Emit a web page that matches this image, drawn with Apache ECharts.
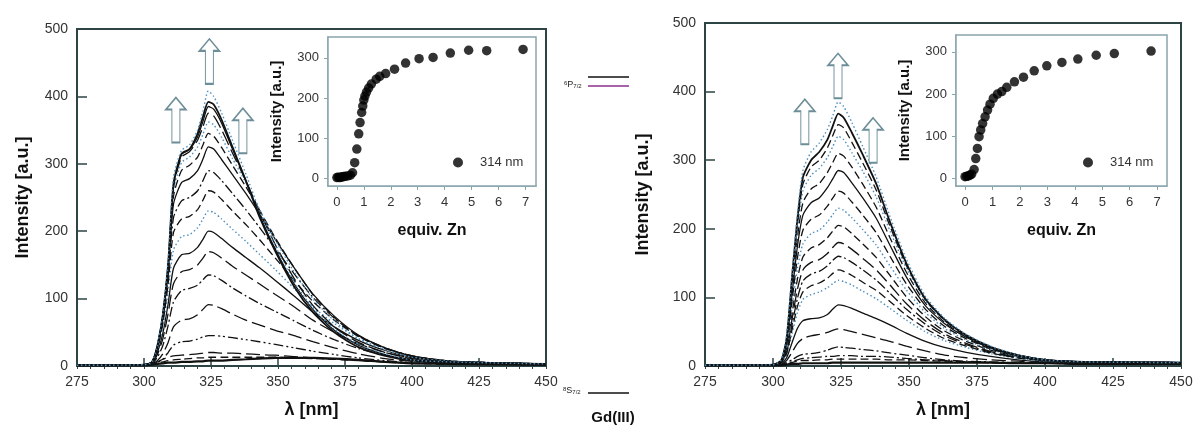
<!DOCTYPE html>
<html><head><meta charset="utf-8">
<script src="https://cdn.jsdelivr.net/npm/echarts@6/dist/echarts.min.js"></script>
<style>html,body{margin:0;padding:0;background:#fff}#c{width:1197px;height:427px}</style>
</head><body><div id="c"></div>
<script>
// ---------------- DATA ----------------
const wl = [275,300,303,305,307,309,311,314,317,320,322,324,326,329,333,338,343,349,356,363,371,380,390,400,415,450];
const xTicks = [275,300,325,350,375,400,425,450];
const yTicks = [0,100,200,300,400,500];
const insetXTicks = [0,1,2,3,4,5,6,7];
const insetYTicks = [0,100,200,300];

// left panel spectra (intensity vs wl)
const L01 = [1,1,2,3,4,5,5,6,6,7,7,8,8,8,9,10,11,12,12,12,11,9,6,4,3,2];
const L02 = [1,1,2,4,6,8,9,10,11,12,12,13,13,13,13,13,13,13,12,11,10,8,6,4,3,2];
const L03 = [1,1,3,6,10,13,15,16,17,18,19,20,20,19,19,18,17,16,14,12,10,8,6,4,3,2];
const L04 = [1,1,2,5,10,20,31,36,37,40,43,45,45,44,42,39,36,32,27,22,17,12,8,5,3,2];
const L05 = [1,2,3,8,18,35,58,68,70,76,84,91,90,85,77,68,61,53,45,36,27,18,11,7,4,2];
const L06 = [1,2,4,13,30,60,95,112,115,120,128,135,134,127,116,104,93,81,67,53,39,26,16,10,5,3];
const L07 = [1,2,4,17,40,78,122,140,143,150,160,170,168,160,148,135,122,106,88,68,50,33,20,12,6,3];
const L08 = [1,2,5,20,48,92,145,165,167,176,188,200,198,189,176,161,146,127,104,80,58,38,23,13,7,3];
const L09 = [1,2,5,24,56,110,172,192,195,205,218,230,228,218,203,185,166,143,115,88,63,41,25,14,7,3];
const L10 = [1,2,5,25,62,122,198,218,222,232,246,260,258,247,230,210,188,160,127,96,68,44,26,15,7,3];
const L11 = [1,2,6,27,66,132,220,245,250,260,275,290,287,275,256,232,206,174,137,102,71,45,27,15,7,3];
const L12 = [1,2,6,28,70,140,240,272,278,290,307,325,322,306,284,256,226,188,146,107,74,46,27,15,7,3];
const L13 = [1,2,6,29,72,144,252,290,298,310,328,345,341,324,298,266,232,190,146,106,72,44,26,14,7,3];
const L14 = [1,2,6,29,73,146,260,302,310,325,344,362,358,339,308,272,233,187,140,100,67,40,24,13,7,3];
const L15 = [1,2,6,30,74,148,265,310,318,335,355,375,371,350,316,275,230,180,130,90,58,35,20,11,6,3];
const L16 = [1,2,6,30,75,150,268,314,321,340,363,385,381,360,322,275,225,173,122,84,53,31,17,9,6,3];
const L17 = [1,2,6,30,75,150,270,315,322,345,370,392,388,365,325,275,222,170,118,80,50,28,15,8,5,3];
const L18 = [1,2,6,32,78,158,280,320,328,350,378,408,400,375,335,285,232,178,125,86,55,32,18,9,6,3];

// right panel spectra
const R01 = [1,1,1,2,3,3,4,4,4,4,5,5,5,5,5,5,5,5,5,5,5,5,4,4,3,3];
const R02 = [1,1,2,3,5,7,8,8,9,9,10,10,10,10,10,10,9,9,8,7,6,5,4,4,3,3];
const R03 = [1,1,2,4,6,9,11,12,13,14,14,15,15,15,14,14,13,11,9,8,6,5,4,4,3,3];
const R04 = [1,2,3,5,9,14,17,18,20,23,26,28,27,26,24,22,19,16,12,9,7,6,5,4,4,3];
const R05 = [1,2,3,8,20,33,40,44,46,49,52,54,53,50,46,41,36,29,22,16,12,9,7,5,4,4];
const R06 = [1,2,4,12,34,55,66,69,70,75,83,89,88,84,77,69,60,48,36,27,20,14,9,6,5,4];
const R07 = [1,2,5,16,47,78,97,104,108,114,120,125,123,118,109,98,84,67,50,37,27,18,11,7,6,5];
const R08 = [1,2,5,18,53,87,108,117,121,128,135,140,138,132,122,110,94,74,55,40,29,19,12,8,6,5];
const R09 = [1,2,6,20,60,99,124,134,138,146,154,160,158,151,140,125,106,83,61,44,31,20,12,8,6,5];
const R10 = [1,2,6,22,68,112,140,151,155,164,173,180,178,170,157,140,118,91,66,47,33,21,13,8,6,5];
const R11 = [1,2,6,25,77,127,159,172,177,187,197,205,203,193,178,158,132,101,72,51,36,23,14,8,6,5];
const R12 = [1,2,7,28,86,142,178,193,198,210,221,230,227,216,199,176,146,111,78,55,38,24,14,8,6,5];
const R13 = [1,2,7,31,95,158,198,214,220,233,245,255,252,239,220,194,160,120,83,58,40,25,15,9,6,5];
const R14 = [1,2,7,34,105,175,220,238,245,260,273,285,282,267,245,215,176,130,88,62,42,26,15,9,6,5];
const R15 = [1,2,8,36,112,188,238,258,266,282,297,310,306,290,265,231,187,137,92,64,43,27,16,9,6,5];
const R16 = [1,2,8,38,120,200,255,278,288,304,320,335,330,311,284,246,197,143,95,66,44,27,16,9,6,5];
const R17 = [1,2,8,40,125,208,265,290,300,318,336,352,347,326,296,256,204,147,97,67,44,27,16,9,6,5];
const R18 = [1,2,8,40,130,215,275,300,312,330,350,368,362,340,308,265,210,150,98,68,45,28,16,9,6,5];
const R19 = [1,2,9,45,135,222,285,312,325,345,365,385,378,355,320,275,218,156,102,70,46,29,16,9,6,5];

// insets: intensity at 314 nm vs equiv. Zn
const insetL_x = [0,0.05,0.1,0.15,0.2,0.25,0.3,0.4,0.5,0.58,0.66,0.74,0.81,0.86,0.92,0.96,1.0,1.04,1.1,1.18,1.28,1.46,1.59,1.81,2.14,2.55,3.05,3.57,4.21,4.89,5.56,6.91];
const insetL_y = [2,3,2,3,4,4,5,6,8,14,39,73,111,139,164,180,195,205,215,225,235,247,254,261,272,287,298,301,312,319,318,321];
const insetR_x = [0,0.06,0.12,0.18,0.24,0.33,0.39,0.45,0.51,0.57,0.64,0.73,0.82,0.91,1.03,1.18,1.34,1.52,1.8,2.13,2.52,2.98,3.53,4.11,4.78,5.44,6.78];
const insetR_y = [4,5,6,8,10,21,47,71,99,115,130,146,162,176,190,200,206,216,229,240,255,267,275,283,292,296,302];

// arrow annotations [wavelength, intensity]
const arrowsL = [[311.9,365],[324.4,452],[336.9,349]];
const arrowsR = [[311.7,356],[323.9,423],[336.8,329]];

// ---------------- STYLES ----------------
const FONT = '"Liberation Sans", Arial, sans-serif';
const FRAME = '#2e4444';
const INSET = '#88a5ac';
const TXT = '#333';
const BLUE = '#4f8fbd';
const st = {
  S:  {color:'#111', width:1.3, type:'solid'},
  S2: {color:'#111', width:2.2, type:'solid'},
  S3: {color:'#111', width:1.8, type:'solid'},
  D:  {color:'#111', width:1.3, type:[8,4]},
  LD: {color:'#111', width:1.3, type:[14,5]},
  DD: {color:'#111', width:1.3, type:[10,3,2,3]},
  DDD:{color:'#111', width:1.3, type:[10,3,2,3,2,3]},
  B:  {color:BLUE, width:1.4, type:[1.5,2.5]}
};
const leftCurves = [L01,L02,L03,L04,L05,L06,L07,L08,L09,L10,L11,L12,L13,L14,L15,L16,L17,L18];
const leftStyles = ['S2','D','LD','DDD','LD','DD','LD','S','B','D','DD','S','D','B','LD','S','S3','B'];
const rightCurves = [R01,R02,R03,R04,R05,R06,R07,R08,R09,R10,R11,R12,R13,R14,R15,R16,R17,R18,R19];
const rightStyles = ['S2','D','DD','DD','LD','S','B','D','DD','LD','D','B','D','S','D','B','D','S3','B'];

const ARROW = 'path://M10,0 L20,12 L14,12 L14,45 L6,45 L6,12 L0,12 Z';

function lines(curves, styles, ax, arrows) {
  return curves.map((c, k) => {
    const s = {
      type:'line', xAxisIndex:ax, yAxisIndex:ax, name:'c'+ax+'_'+k,
      data: wl.map((w,i)=>[w,c[i]]), showSymbol:false, smooth:0.22,
      lineStyle: st[styles[k]], silent:true, z:2
    };
    if (k === curves.length - 1) {
      s.markPoint = {
        symbol: ARROW, symbolSize:[20,45], silent:true,
        itemStyle:{color:'#fff', borderColor:'#6d8e98', borderWidth:1.4},
        label:{show:false},
        data: arrows.map(a=>({coord:a}))
      };
    }
    return s;
  });
}

function mainX(g){
  return {gridIndex:g, type:'value', min:275, max:450, interval:25, position:'bottom',
    axisLine:{show:true, onZero:false, lineStyle:{color:FRAME, width:2}},
    axisTick:{show:true, inside:true, length:8, lineStyle:{color:FRAME, width:1.5}},
    axisLabel:{fontSize:14, color:TXT, margin:9, fontFamily:FONT},
    splitLine:{show:false},
    name:'λ [nm]', nameLocation:'middle', nameGap:35,
    nameTextStyle:{fontSize:18, fontWeight:'bold', color:'#111', fontFamily:FONT}};
}
function minorX(g){
  return {gridIndex:g, type:'value', min:275, max:450, interval:5, position:'bottom',
    axisLine:{show:false}, axisTick:{show:true, inside:false, length:3, lineStyle:{color:FRAME}},
    axisLabel:{show:false}, splitLine:{show:false}};
}
function mainY(g, gap){
  return {gridIndex:g, type:'value', min:0, max:500, interval:100,
    axisLine:{show:true, lineStyle:{color:FRAME, width:2}},
    axisTick:{show:true, inside:true, length:10, lineStyle:{color:FRAME, width:1.5}},
    axisLabel:{fontSize:14, color:TXT, margin:9, fontFamily:FONT},
    splitLine:{show:false},
    name:'Intensity [a.u.]', nameLocation:'middle', nameGap:gap, nameRotate:90,
    nameTextStyle:{fontSize:18, fontWeight:'bold', color:'#111', fontFamily:FONT}};
}
function insetX(g, min, max){
  return {gridIndex:g, type:'value', min:min, max:max,
    axisLine:{show:true, onZero:false, lineStyle:{color:INSET, width:1.5}},
    axisTick:{show:true, length:4, customValues:insetXTicks, lineStyle:{color:INSET}},
    axisLabel:{fontSize:13, color:TXT, margin:10, customValues:insetXTicks, fontFamily:FONT},
    splitLine:{show:false},
    name:'equiv. Zn', nameLocation:'middle', nameGap:37,
    nameTextStyle:{fontSize:16, fontWeight:'bold', color:'#111', fontFamily:FONT}};
}
function insetY(g, min, max){
  return {gridIndex:g, type:'value', min:min, max:max,
    axisLine:{show:true, onZero:false, lineStyle:{color:INSET, width:1.5}},
    axisTick:{show:true, length:4, customValues:insetYTicks, lineStyle:{color:INSET}},
    axisLabel:{fontSize:13, color:TXT, margin:9, customValues:insetYTicks, fontFamily:FONT},
    splitLine:{show:false},
    name:'Intensity [a.u.]', nameLocation:'middle', nameGap:44, nameRotate:90,
    nameTextStyle:{fontSize:15, fontWeight:'bold', color:'#111', fontFamily:FONT}};
}

const series = [].concat(
  lines(leftCurves, leftStyles, 0, arrowsL),
  lines(rightCurves, rightStyles, 2, arrowsR),
  [
    {type:'scatter', name:'314 nm', xAxisIndex:1, yAxisIndex:1, symbolSize:9.5,
     itemStyle:{color:'#000'}, data: insetL_x.map((x,i)=>[x,insetL_y[i]]), z:5},
    {type:'scatter', name:'314 nm', xAxisIndex:3, yAxisIndex:3, symbolSize:9.5,
     itemStyle:{color:'#000'}, data: insetR_x.map((x,i)=>[x,insetR_y[i]]), z:5}
  ]
);

// axis indices: 0 main L, 1 inset L, 2 main R, 3 inset R, 4/5 minor tick overlays
const option = {
  animation:false,
  backgroundColor:'#fff',
  textStyle:{fontFamily:FONT},
  grid:[
    {left:77, top:29, width:469, height:337, show:true, borderColor:FRAME, borderWidth:2, backgroundColor:'transparent'},
    {left:328, top:37, width:208, height:149, show:true, borderColor:INSET, borderWidth:1.5, backgroundColor:'#fff', z:1},
    {left:705, top:23, width:476, height:343, show:true, borderColor:FRAME, borderWidth:2, backgroundColor:'transparent'},
    {left:956, top:35, width:211, height:151, show:true, borderColor:INSET, borderWidth:1.5, backgroundColor:'#fff', z:1}
  ],
  xAxis:[ mainX(0), insetX(1,-0.33,7.39), mainX(2), insetX(3,-0.33,7.36), minorX(0), minorX(2) ],
  yAxis:[ mainY(0,45), insetY(1,-19,352), mainY(2,53), insetY(3,-18,340) ],
  legend:[
    {data:['314 nm'], left:448, top:151, icon:'circle', itemWidth:10, itemHeight:10, selectedMode:false,
     textStyle:{fontSize:13, color:TXT, padding:[0,0,0,12], fontFamily:FONT}},
    {data:['314 nm'], left:1078, top:151, icon:'circle', itemWidth:10, itemHeight:10, selectedMode:false,
     textStyle:{fontSize:13, color:TXT, padding:[0,0,0,12], fontFamily:FONT}}
  ],
  graphic:[
    {type:'line', shape:{x1:588,y1:77,x2:629,y2:77}, style:{stroke:'#111', lineWidth:1.6}},
    {type:'line', shape:{x1:588,y1:86,x2:629,y2:86}, style:{stroke:'#8e2f8e', lineWidth:1.6}},
    {type:'line', shape:{x1:588,y1:393,x2:629,y2:393}, style:{stroke:'#111', lineWidth:1.6}},
    {type:'text', x:564, y:80, style:{text:'{a|6}{b|P}{c|7/2}', fill:'#222',
      rich:{a:{fontSize:6, fill:'#222', verticalAlign:'top', fontFamily:FONT}, b:{fontSize:9, fill:'#222', fontFamily:FONT}, c:{fontSize:6, fill:'#222', verticalAlign:'bottom', padding:[3,0,0,0], fontFamily:FONT}}}},
    {type:'text', x:563, y:386, style:{text:'{a|8}{b|S}{c|7/2}', fill:'#222',
      rich:{a:{fontSize:6, fill:'#222', verticalAlign:'top', fontFamily:FONT}, b:{fontSize:9, fill:'#222', fontFamily:FONT}, c:{fontSize:6, fill:'#222', verticalAlign:'bottom', padding:[3,0,0,0], fontFamily:FONT}}}},
    {type:'text', x:613, y:418, style:{text:'Gd(III)', fill:'#111', font:'bold 15px "Liberation Sans", Arial, sans-serif', textAlign:'center', textVerticalAlign:'middle'}}
  ],
  series: series
};
const chart = echarts.init(document.getElementById('c'), null, {renderer:'canvas'});
chart.setOption(option);
</script></body></html>
